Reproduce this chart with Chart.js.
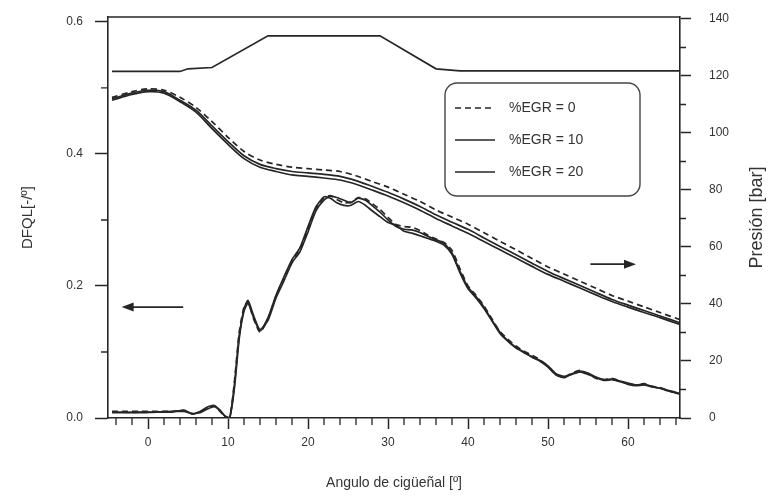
<!DOCTYPE html>
<html>
<head>
<meta charset="utf-8">
<script src="https://cdn.jsdelivr.net/npm/chart.js@4.4.1/dist/chart.umd.min.js"></script>
<style>
  html, body { margin: 0; padding: 0; background: #fff; }
  canvas { display: block; }
</style>
</head>
<body>
<canvas id="chart" width="778" height="503"></canvas>
<script>
// --- data ---
const seriesLabels = ['%EGR = 0', '%EGR = 10', '%EGR = 20'];

// pressure curves (right axis, bar)
const pressureAngles = [-4.5, -2, 0, 2, 4, 6, 8, 10, 12, 14, 16, 18, 20, 22, 24, 26, 28, 30, 32, 34,
  36, 38, 40, 42, 44, 46, 48, 50, 52, 54, 56, 58, 60, 62, 64, 66.5];
const pressureEgr0 = [112.5, 114.5, 115.5, 115, 112.5, 109, 104, 98.5, 93.5, 90.5, 89, 88, 87.5, 87, 86.5, 85, 83, 81, 78.5, 76,
  73, 70.5, 68, 65, 62, 59, 56, 53, 50.5, 48, 45.5, 43, 41, 39, 37, 34.5];
const pressureEgr10 = [112, 114, 115, 114.5, 111.5, 108, 102.5, 97, 92, 89, 87.5, 86.5, 86, 85.5, 84.8, 83.3, 81.3, 79.2, 76.8, 74.2,
  71.3, 68.7, 66.2, 63.2, 60.2, 57.3, 54.3, 51.4, 48.9, 46.5, 44, 41.6, 39.6, 37.7, 35.8, 33.4];
const pressureEgr20 = [111.5, 113.5, 114.5, 114, 111, 107.3, 101.5, 96, 91, 88, 86.5, 85.3, 84.8, 84.2, 83.5, 82, 80, 77.9, 75.5, 72.9,
  70, 67.4, 64.8, 61.9, 59, 56.1, 53.2, 50.4, 48, 45.6, 43.2, 40.9, 38.9, 37, 35.2, 32.8];

// heat release rate curves (left axis, DFQL)
const dfqlAngles = [-4.5, -3, -1, 1, 3, 4.5, 5.5, 6.5, 7.5, 8.3, 9, 9.6, 10.2, 10.8, 11.4, 12, 12.5, 13.2, 14, 15,
  16, 17, 18, 19, 20, 21, 22, 22.8, 23.6, 24.5, 25.3, 26.3, 27.2, 28, 29, 30, 31, 32, 33, 34,
  35, 36, 37, 38, 39, 40, 41, 42, 43, 44, 45, 46, 47, 48, 49, 50, 51, 52, 53, 54,
  55, 56, 57, 58, 59, 60, 61, 62, 63, 64, 65, 66.5];
const dfqlEgr0 = [0.010, 0.010, 0.010, 0.010, 0.010, 0.011, 0.006, 0.009, 0.016, 0.018, 0.010, 0.002, 0.000, 0.055, 0.130, 0.168, 0.176, 0.150, 0.130, 0.150,
  0.185, 0.212, 0.238, 0.256, 0.286, 0.318, 0.333, 0.337, 0.331, 0.326, 0.327, 0.334, 0.332, 0.325, 0.316, 0.304, 0.293, 0.290, 0.289, 0.284,
  0.277, 0.271, 0.266, 0.254, 0.226, 0.200, 0.186, 0.170, 0.150, 0.131, 0.119, 0.109, 0.101, 0.095, 0.088, 0.078, 0.066, 0.062, 0.068, 0.072,
  0.067, 0.060, 0.058, 0.060, 0.056, 0.052, 0.050, 0.052, 0.048, 0.046, 0.042, 0.037];
const dfqlEgr10 = [0.008, 0.008, 0.009, 0.009, 0.010, 0.010, 0.007, 0.008, 0.014, 0.017, 0.011, 0.003, 0.000, 0.050, 0.125, 0.165, 0.178, 0.155, 0.134, 0.148,
  0.182, 0.208, 0.235, 0.252, 0.282, 0.314, 0.330, 0.336, 0.334, 0.330, 0.326, 0.333, 0.330, 0.322, 0.312, 0.300, 0.290, 0.286, 0.285, 0.281,
  0.275, 0.270, 0.265, 0.250, 0.222, 0.198, 0.184, 0.168, 0.148, 0.130, 0.117, 0.107, 0.099, 0.093, 0.087, 0.079, 0.067, 0.063, 0.066, 0.070,
  0.066, 0.061, 0.057, 0.058, 0.055, 0.051, 0.049, 0.050, 0.047, 0.045, 0.041, 0.036];
const dfqlEgr20 = [0.009, 0.009, 0.008, 0.009, 0.009, 0.012, 0.006, 0.010, 0.017, 0.019, 0.012, 0.003, 0.000, 0.045, 0.120, 0.162, 0.174, 0.152, 0.132, 0.152,
  0.186, 0.214, 0.240, 0.258, 0.290, 0.320, 0.335, 0.333, 0.326, 0.322, 0.322, 0.328, 0.322, 0.314, 0.305, 0.296, 0.292, 0.283, 0.280, 0.276,
  0.272, 0.268, 0.262, 0.248, 0.220, 0.196, 0.182, 0.166, 0.147, 0.128, 0.116, 0.106, 0.100, 0.092, 0.086, 0.077, 0.065, 0.061, 0.067, 0.071,
  0.068, 0.062, 0.058, 0.059, 0.056, 0.053, 0.050, 0.051, 0.048, 0.045, 0.042, 0.037];

// upper trace (left axis units)
const topTraceAngles = [-4.5, 4.0, 5.0, 8.0, 15.0, 29.0, 36.0, 39.0, 66.5];
const topTraceValues = [0.525, 0.525, 0.529, 0.531, 0.579, 0.579, 0.529, 0.526, 0.526];

// axis ticks
const xTicks = [0, 10, 20, 30, 40, 50, 60];
const leftTicks = [0.0, 0.2, 0.4, 0.6];
const rightTicks = [0, 20, 40, 60, 80, 100, 120, 140];
const xMinorTicks = [-4, -2, 2, 4, 6, 8, 12, 14, 16, 18, 22, 24, 26, 28, 32, 34, 36, 38, 42, 44, 46, 48, 52, 54, 56, 58, 62, 64, 66];
const leftMinorTicks = [0.1, 0.3, 0.5];
const rightMinorTicks = [10, 30, 50, 70, 90, 110, 130];

// arrows: [from angle, to angle, DFQL level]
const arrows = [[4.4, -3.3, 0.168], [55.3, 61.0, 0.233]];

const INK = '#262626';
const FONT = "'Liberation Sans', Arial, sans-serif";

function toPoints(xs, ys) {
  return xs.map((x, i) => ({ x: x, y: ys[i] }));
}

const dashes = [[6, 4], [], []];
const pressureSets = [pressureEgr0, pressureEgr10, pressureEgr20];
const dfqlSets = [dfqlEgr0, dfqlEgr10, dfqlEgr20];

const datasets = [];
seriesLabels.forEach((label, i) => {
  datasets.push({
    label: label,
    data: toPoints(pressureAngles, pressureSets[i]),
    yAxisID: 'y2',
    borderColor: INK,
    borderWidth: 1.7,
    borderDash: dashes[i],
    pointRadius: 0,
    tension: 0.3,
    fill: false
  });
  datasets.push({
    label: label + ' DFQL',
    data: toPoints(dfqlAngles, dfqlSets[i]),
    yAxisID: 'y',
    borderColor: INK,
    borderWidth: 1.7,
    borderDash: dashes[i],
    pointRadius: 0,
    tension: 0.2,
    fill: false
  });
});
datasets.push({
  label: 'top',
  data: toPoints(topTraceAngles, topTraceValues),
  yAxisID: 'y',
  borderColor: INK,
  borderWidth: 1.7,
  pointRadius: 0,
  tension: 0,
  fill: false
});

// frame top line, minor ticks, arrows, right axis title
const extras = {
  id: 'extras',
  afterDraw(chart) {
    const ctx = chart.ctx;
    const a = chart.chartArea;
    const x = chart.scales.x, y = chart.scales.y, y2 = chart.scales.y2;
    ctx.save();
    ctx.strokeStyle = INK;
    ctx.lineWidth = 1.6;
    ctx.beginPath();
    ctx.moveTo(a.left, a.top);
    ctx.lineTo(a.right, a.top);
    ctx.stroke();

    ctx.lineWidth = 1.3;
    ctx.beginPath();
    xMinorTicks.forEach(v => {
      const px = x.getPixelForValue(v);
      ctx.moveTo(px, a.bottom);
      ctx.lineTo(px, a.bottom + 7);
    });
    leftMinorTicks.forEach(v => {
      const py = y.getPixelForValue(v);
      ctx.moveTo(a.left - 7, py);
      ctx.lineTo(a.left, py);
    });
    rightMinorTicks.forEach(v => {
      const py = y2.getPixelForValue(v);
      ctx.moveTo(a.right, py);
      ctx.lineTo(a.right + 6, py);
    });
    ctx.stroke();

    // arrows
    ctx.fillStyle = INK;
    arrows.forEach(ar => {
      const x0 = x.getPixelForValue(ar[0]);
      const x1 = x.getPixelForValue(ar[1]);
      const py = y.getPixelForValue(ar[2]);
      const dir = x1 > x0 ? 1 : -1;
      ctx.lineWidth = 1.8;
      ctx.beginPath();
      ctx.moveTo(x0, py);
      ctx.lineTo(x1 - dir * 8, py);
      ctx.stroke();
      ctx.beginPath();
      ctx.moveTo(x1, py);
      ctx.lineTo(x1 - dir * 12, py - 4.5);
      ctx.lineTo(x1 - dir * 12, py + 4.5);
      ctx.closePath();
      ctx.fill();
    });

    // right axis title, reading bottom to top
    ctx.fillStyle = '#333';
    ctx.font = '18px ' + FONT;
    ctx.textAlign = 'center';
    ctx.textBaseline = 'middle';
    ctx.translate(chart.width - 21, (a.top + a.bottom) / 2);
    ctx.rotate(-Math.PI / 2);
    ctx.fillText('Presión [bar]', 0, 0);
    ctx.restore();
  }
};

// rounded legend box
const boxLegend = {
  id: 'boxLegend',
  afterDraw(chart, args, opts) {
    const ctx = chart.ctx;
    ctx.save();
    ctx.strokeStyle = '#444';
    ctx.lineWidth = 1.4;
    ctx.beginPath();
    ctx.roundRect(opts.left, opts.top, opts.width, opts.height, 12);
    ctx.stroke();
    ctx.font = '14px ' + FONT;
    ctx.fillStyle = '#333';
    ctx.textBaseline = 'middle';
    ctx.textAlign = 'left';
    seriesLabels.forEach((label, i) => {
      const ry = opts.top + 25 + i * 32;
      ctx.strokeStyle = INK;
      ctx.lineWidth = 1.7;
      ctx.setLineDash(dashes[i]);
      ctx.beginPath();
      ctx.moveTo(opts.left + 10, ry);
      ctx.lineTo(opts.left + 50, ry);
      ctx.stroke();
      ctx.setLineDash([]);
      ctx.fillText(label, opts.left + 64, ry);
    });
    ctx.restore();
  }
};

const tickFont = { family: FONT, size: 12 };

// fixed axis box sizes so the plot area lands where the original has it
function fitVertical(width) {
  return s => {
    s.width = width;
    s.paddingTop = 0;
    s.paddingBottom = 0;
  };
}

new Chart(document.getElementById('chart'), {
  type: 'line',
  data: { datasets: datasets },
  plugins: [extras, boxLegend],
  options: {
    responsive: false,
    devicePixelRatio: 1,
    animation: false,
    layout: { padding: { top: 17, left: 0, right: 0, bottom: 0 } },
    plugins: {
      legend: { display: false },
      tooltip: { enabled: false },
      boxLegend: { left: 445, top: 83, width: 195, height: 113 }
    },
    scales: {
      x: {
        type: 'linear',
        min: -5,
        max: 66.5,
        afterBuildTicks: s => { s.ticks = xTicks.map(v => ({ value: v })); },
        afterFit: s => { s.height = 85; s.paddingLeft = 0; s.paddingRight = 0; },
        grid: { drawOnChartArea: false, tickLength: 11, tickColor: INK, tickWidth: 1.5 },
        border: { color: INK, width: 1.6 },
        ticks: { font: tickFont, color: '#333', padding: 6, maxRotation: 0 },
        title: { display: true, text: 'Angulo de cigüeñal [º]', font: { family: FONT, size: 14 }, color: '#333', padding: { top: 0, bottom: 11 } }
      },
      y: {
        type: 'linear',
        position: 'left',
        min: 0,
        max: 0.6075,
        afterBuildTicks: s => { s.ticks = leftTicks.map(v => ({ value: v })); },
        afterFit: fitVertical(108),
        grid: { drawOnChartArea: false, tickLength: 13, tickColor: INK, tickWidth: 1.5 },
        border: { color: INK, width: 1.6 },
        ticks: { font: tickFont, color: '#333', padding: 12, callback: v => v.toFixed(1) },
        title: { display: true, text: 'DFQL[-/º]', font: { family: FONT, size: 15 }, color: '#333', padding: { top: 19, bottom: 0 } }
      },
      y2: {
        type: 'linear',
        position: 'right',
        min: 0,
        max: 140.7,
        afterBuildTicks: s => { s.ticks = rightTicks.map(v => ({ value: v })); },
        afterFit: fitVertical(98),
        grid: { drawOnChartArea: false, tickLength: 11, tickColor: INK, tickWidth: 1.5 },
        border: { color: INK, width: 1.6 },
        ticks: { font: tickFont, color: '#333', padding: 18 }
      }
    }
  }
});
</script>
</body>
</html>
